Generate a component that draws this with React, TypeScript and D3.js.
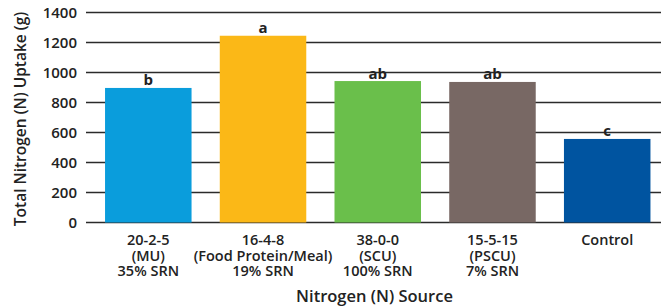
import React, { useRef, useEffect } from "react";
import * as d3 from "d3";

const categories = ["20-2-5", "16-4-8", "38-0-0", "15-5-15", "Control"];
const labelLines = [
  ["20-2-5", "(MU)", "35% SRN"],
  ["16-4-8", "(Food Protein/Meal)", "19% SRN"],
  ["38-0-0", "(SCU)", "100% SRN"],
  ["15-5-15", "(PSCU)", "7% SRN"],
  ["Control"],
];
const uptake = [897, 1245, 943, 937, 557];
const letters = ["b", "a", "ab", "ab", "c"];
const colors = ["#0a9ddc", "#fbb817", "#6abf4b", "#786864", "#0054a0"];
const yTicks = [0, 200, 400, 600, 800, 1000, 1200, 1400];

const width = 666;
const height = 306;
const margin = { top: 12.5, left: 86, right: 5, bottom: 83.5 };
const font = "'Open Sans', sans-serif";

export default function App() {
  const ref = useRef<SVGSVGElement>(null);

  useEffect(() => {
    if (!ref.current) return;
    const svg = d3.select(ref.current);
    svg.selectAll("*").remove();

    const yScale = d3.scaleLinear().domain([0, 1400]).range([height - margin.bottom, margin.top]);
    const xScale = d3.scaleBand().domain(categories).range([margin.left, 669.5]).paddingInner(0.246).paddingOuter(0.166);
    const gridRight = width - margin.right;

    // gridlines
    svg.append("g").selectAll("line").data(yTicks).join("line")
      .attr("x1", margin.left).attr("x2", gridRight)
      .attr("y1", (d) => yScale(d)).attr("y2", (d) => yScale(d))
      .attr("stroke", "#2b2b2b").attr("stroke-width", 1.4);

    // tick labels
    svg.append("g").selectAll("text").data(yTicks).join("text")
      .attr("x", 77).attr("y", (d) => yScale(d)).attr("dy", "0.36em")
      .attr("text-anchor", "end").attr("font-family", font).attr("font-weight", 600)
      .attr("font-size", 15).attr("fill", "#222")
      .text((d) => d);

    // bars
    svg.append("g").selectAll("rect").data(uptake).join("rect")
      .attr("x", (_, i) => xScale(categories[i]) as number)
      .attr("width", xScale.bandwidth())
      .attr("y", (d) => yScale(d))
      .attr("height", (d) => yScale(0) - yScale(d))
      .attr("fill", (_, i) => colors[i]);

    // significance letters
    svg.append("g").selectAll("text").data(uptake).join("text")
      .attr("x", (_, i) => (xScale(categories[i]) as number) + xScale.bandwidth() / 2)
      .attr("y", (d) => yScale(d) - 2.5)
      .attr("text-anchor", "middle").attr("font-family", font).attr("font-weight", 700)
      .attr("font-size", 15).attr("fill", "#222")
      .text((_, i) => letters[i]);

    // category labels
    const cat = svg.append("g").selectAll("text").data(labelLines).join("text")
      .attr("x", (_, i) => (xScale(categories[i]) as number) + xScale.bandwidth() / 2)
      .attr("y", 245)
      .attr("text-anchor", "middle").attr("font-family", font).attr("font-weight", 600)
      .attr("font-size", 14.5).attr("fill", "#222");
    cat.selectAll("tspan").data((d) => d).join("tspan")
      .attr("x", function () { return (this.parentNode as SVGTextElement).getAttribute("x"); })
      .attr("dy", (_, j) => (j === 0 ? 0 : 15.5))
      .text((d) => d);

    // axis titles
    svg.append("text")
      .attr("x", (margin.left + gridRight) / 2 + 1).attr("y", 302)
      .attr("text-anchor", "middle").attr("font-family", font).attr("font-weight", 600)
      .attr("font-size", 16.5).attr("fill", "#222")
      .text("Nitrogen (N) Source");

    svg.append("text")
      .attr("transform", `translate(25.5, ${(yScale(0) + yScale(1400)) / 2 + 1.5}) rotate(-90)`)
      .attr("text-anchor", "middle").attr("font-family", font).attr("font-weight", 600)
      .attr("font-size", 15.5).attr("fill", "#222")
      .text("Total Nitrogen (N) Uptake (g)");
  }, []);

  return (
    <svg ref={ref} width={width} height={height} style={{ position: "absolute", left: 0, top: 0 }} />
  );
}
